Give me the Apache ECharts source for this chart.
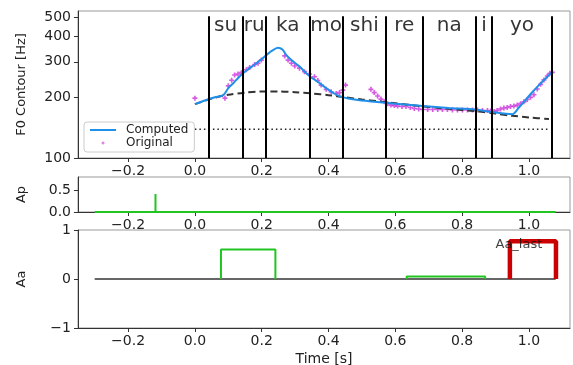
<!DOCTYPE html>
<html><head><meta charset="utf-8">
<script src="https://cdn.jsdelivr.net/npm/echarts@6/dist/echarts.min.js"></script>
<style>html,body{margin:0;padding:0;background:#fff}#c{width:573px;height:365px}</style>
</head><body><div id="c"></div>
<script>
// ---- data ----
const syllables = ['su','ru','ka','mo','shi','re','na','i','yo'];
const boundaries = [0.042,0.142,0.213,0.343,0.443,0.572,0.682,0.841,0.890,1.069];
const computedT = [0.00,0.03,0.06,0.085,0.10,0.115,0.13,0.144,0.16,0.18,0.20,0.214,0.23,0.249,0.262,0.274,0.29,0.313,0.343,0.378,0.393,0.415,0.438,0.488,0.572,0.63,0.682,0.76,0.84,0.89,0.95,0.97,0.99,1.01,1.03,1.05,1.068];
const computedF0 = [185,193,200,205,222,235,250,263,276,292,310,324,340,352,345,324,305,284,255,232,222,210,201,194,188,184,181,177,174,169,165,178,194,212,230,248,266];
const phraseT = [0,0.05,0.1,0.15,0.2,0.25,0.3,0.35,0.4,0.45,0.5,0.55,0.6,0.65,0.7,0.75,0.8,0.85,0.9,0.95,1.0,1.06];
const phraseF0 = [185,197,206,211,214,214,212,209,205,200,195,191,187,183,179,176,173,170,166,162,159,156];
const originalT = [0.00,0.09,0.10,0.11,0.119,0.129,0.139,0.154,0.164,0.179,0.189,0.199,
  0.269,0.279,0.289,0.299,0.313,0.328,0.343,0.358,0.368,0.378,0.393,0.408,0.423,0.433,0.443,0.451,
  0.527,0.537,0.547,0.557,0.567,0.577,0.587,0.597,0.607,0.62,0.632,0.645,0.657,0.67,0.682,0.697,0.712,0.727,0.741,0.756,0.771,0.786,0.801,0.816,0.831,0.846,0.861,0.876,0.886,0.896,
  0.905,0.915,0.925,0.935,0.945,0.955,0.965,0.975,0.985,0.995,1.005,1.015,1.025,1.035,1.045,1.055,1.063,1.07];
const originalF0 = [198,198,228,243,258,261,265,274,281,291,295,306,
  321,306,295,286,279,268,261,253,242,230,219,213,209,211,217,230,
  219,211,203,196,190,186,183,182,181,180,180,178,176,175,174,174,174,174,174,174,173,173,173,173,173,173,172,172,171,170,
  172,175,177,178,180,181,183,186,190,195,200,206,220,232,244,255,263,266];
const baseF0 = 139;
const baseRange = [0.0, 1.06];
const timeRange = [-0.3, 1.08];
const phraseCmdT = [-0.118];
const phraseCmdAp = [0.41];
const accentOn = [0.078, 0.634];
const accentOff = [0.241, 0.869];
const accentAa = [0.6, 0.05];
const lastOn = 0.943, lastOff = 1.081, lastAa = 0.77;
const lastLabel = 'Aa_last';
const xTicks = [-0.2,0,0.2,0.4,0.6,0.8,1.0];
const f0Ticks = [100,200,300,400,500];
const apTicks = [0,0.5];
const aaTicks = [-1,0,1];
const f0Range = [100, 536];
const vlineTop = 505;
const sylLabelY = 452;

// ---- helpers ----
const FONT = 'DejaVu Sans';
const minus = v => (v < 0 ? '\u2212' : '') ;
const fmt1 = v => minus(v) + Math.abs(v).toFixed(1);
const fmt0 = v => minus(v) + Math.abs(Math.round(v));
const AX = '#333';
function xAxisFor(g){
  return {type:'value', gridIndex:g, min:-0.35, max:1.123,
    splitLine:{show:false},
    axisLine:{show:true, onZero:false, lineStyle:{color:AX, width:1}},
    axisTick:{show:true, customValues:xTicks, length:4, lineStyle:{color:AX}},
    axisLabel:{show:true, customValues:xTicks, formatter:fmt1, fontSize:14, color:'#222', margin:6, fontFamily:FONT}};
}
function yAxisBase(g, name, gap){
  return {gridIndex:g, name:name, nameLocation:'middle', nameGap:gap,
    nameTextStyle:{fontSize:13, color:'#222', fontFamily:FONT},
    splitLine:{show:false},
    axisLine:{show:true, onZero:false, lineStyle:{color:AX, width:1}},
    axisTick:{show:true, length:4, lineStyle:{color:AX}},
    axisLabel:{show:true, fontSize:14, color:'#222', margin:7, fontFamily:FONT}};
}
const gridBase = {left:78, right:3, show:true, borderColor:'#999', borderWidth:1, containLabel:false, outerBoundsMode:'none'};

const yF0 = yAxisBase(0, 'F0 Contour [Hz]', 50);
Object.assign(yF0, {type:'log', logBase:10, min:f0Range[0], max:f0Range[1]});
yF0.axisTick.customValues = f0Ticks;
yF0.axisLabel.customValues = f0Ticks;
yF0.axisLabel.formatter = v => String(Math.round(v));
const yAp = yAxisBase(1, 'Ap', 50);
Object.assign(yAp, {type:'value', min:0, max:0.8});
yAp.axisTick.customValues = apTicks; yAp.axisLabel.customValues = apTicks; yAp.axisLabel.formatter = fmt1;
const yAa = yAxisBase(2, 'Aa', 50);
Object.assign(yAa, {type:'value', min:-1, max:1});
yAa.axisTick.customValues = aaTicks; yAa.axisLabel.customValues = aaTicks; yAa.axisLabel.formatter = fmt0;

const zip = (a,b) => a.map((v,i)=>[v,b[i]]);
const mids = syllables.map((s,i)=>({name:s, value:[(boundaries[i]+boundaries[i+1])/2, sylLabelY]}));
const vlines = boundaries.map(b=>[{coord:[b,f0Range[0]]},{coord:[b,vlineTop]}]);

// Ap step data
const apData = [[timeRange[0],0]];
phraseCmdT.forEach((t,i)=>{apData.push([t,0],[t,phraseCmdAp[i]],[t,0]);});
apData.push([timeRange[1],0]);

const GREEN = '#22c422';
const BLUE = '#1f8fe8';
const MAGENTA = '#cc33dd';
const accentSeries = accentOn.map((on,i)=>({type:'line', xAxisIndex:2, yAxisIndex:2, symbol:'none', silent:true,
  lineStyle:{color:GREEN, width:2},
  data:[[on,0],[on,accentAa[i]],[accentOff[i],accentAa[i]],[accentOff[i],0]]}));

const plusPath = 'path://M2,0L4,0L4,2L6,2L6,4L4,4L4,6L2,6L2,4L0,4L0,2L2,2Z';

const option = {
  animation:false,
  backgroundColor:'#fff',
  textStyle:{fontFamily:FONT},
  grid:[
    Object.assign({top:11, height:147}, gridBase),
    Object.assign({top:177, height:35}, gridBase),
    Object.assign({top:230, height:98}, gridBase)
  ],
  xAxis:[xAxisFor(0), xAxisFor(1), Object.assign(xAxisFor(2), {name:'Time [s]', nameLocation:'middle', nameGap:24, nameTextStyle:{fontSize:14, color:'#222', fontFamily:FONT}})],
  yAxis:[yF0, yAp, yAa],
  legend:{show:true, orient:'vertical', left:84, top:122, itemWidth:26, itemHeight:3, itemGap:1,
    padding:[2,6,3,5], borderColor:'#ccc', borderWidth:1, borderRadius:3, backgroundColor:'rgba(255,255,255,0.85)',
    textStyle:{fontSize:12, color:'#222', fontFamily:FONT, padding:[0,0,0,5]},
    data:[{name:'Computed', itemStyle:{color:'rgba(0,0,0,0)', borderColor:'rgba(0,0,0,0)', borderWidth:0}},{name:'Original'}]},
  series:[
    {name:'base', type:'line', xAxisIndex:0, yAxisIndex:0, symbol:'none', silent:true,
      lineStyle:{color:'#222', width:1.5, type:[1.5,3]},
      data:[[baseRange[0],baseF0],[baseRange[1],baseF0]]},
    {name:'phrase', type:'line', xAxisIndex:0, yAxisIndex:0, symbol:'none', silent:true, smooth:0.3,
      lineStyle:{color:'#333', width:2, type:[7,4]}, data:zip(phraseT, phraseF0),
      markLine:{silent:true, symbol:'none', label:{show:false}, lineStyle:{color:'#000', width:2, type:'solid'}, data:vlines}},
    {name:'Computed', type:'line', xAxisIndex:0, yAxisIndex:0, symbol:'none', silent:true, smooth:0.3,
      itemStyle:{color:BLUE}, lineStyle:{color:BLUE, width:2}, data:zip(computedT, computedF0)},
    {name:'Original', type:'scatter', xAxisIndex:0, yAxisIndex:0, symbol:plusPath, symbolSize:5, silent:true,
      itemStyle:{color:MAGENTA}, data:zip(originalT, originalF0)},
    {name:'syl', type:'scatter', xAxisIndex:0, yAxisIndex:0, symbolSize:0, silent:true,
      label:{show:true, position:'inside', formatter:'{b}', fontSize:20, color:'#000', fontFamily:FONT}, data:mids},
    {name:'Ap', type:'line', xAxisIndex:1, yAxisIndex:1, symbol:'none', silent:true,
      lineStyle:{color:GREEN, width:2}, data:apData},
    {name:'Aa0', type:'line', xAxisIndex:2, yAxisIndex:2, symbol:'none', silent:true,
      lineStyle:{color:'#333', width:1.5}, data:[[timeRange[0],0],[timeRange[1],0]]},
    ...accentSeries,
    {name:'AaLast', type:'line', xAxisIndex:2, yAxisIndex:2, symbol:'none', silent:true,
      lineStyle:{color:'#cc0000', width:4.5}, data:[[lastOn,0],[lastOn,lastAa],[lastOff,lastAa],[lastOff,0]]},
    {name:'AaLastLabel', type:'scatter', xAxisIndex:2, yAxisIndex:2, symbolSize:0, silent:true, z:5,
      label:{show:true, position:'right', distance:0, formatter:lastLabel, fontSize:13, color:'#111', fontFamily:FONT},
      data:[[lastOn-0.043, lastAa-0.06]]}
  ]
};
const chart = echarts.init(document.getElementById('c'), null, {renderer:'canvas'});
chart.setOption(option);
</script></body></html>
